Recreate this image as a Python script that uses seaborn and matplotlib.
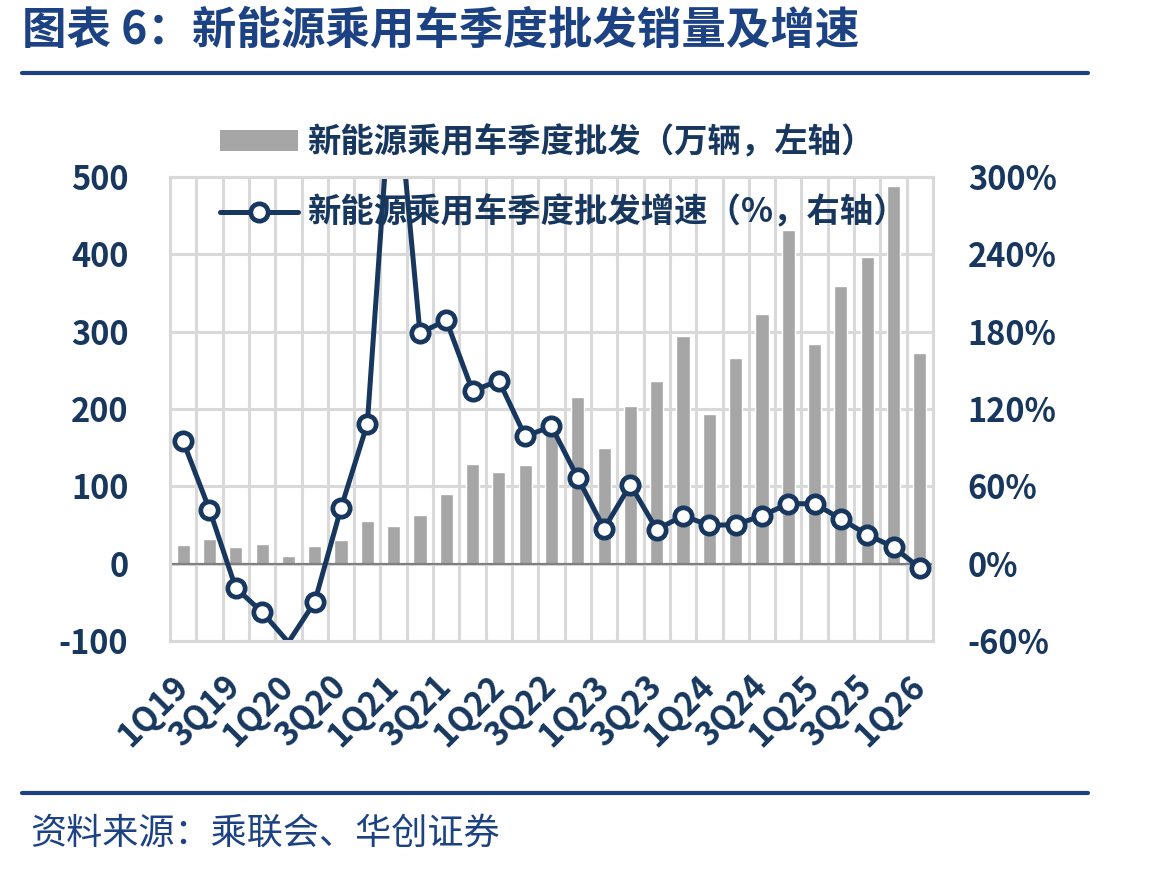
import numpy as np
import matplotlib
matplotlib.use("Agg")
import matplotlib.pyplot as plt
from matplotlib.patches import Patch
from matplotlib.lines import Line2D
from matplotlib.ticker import FuncFormatter
import seaborn as sns

# ---------------- data ----------------
quarters = ["1Q19", "2Q19", "3Q19", "4Q19",
            "1Q20", "2Q20", "3Q20", "4Q20",
            "1Q21", "2Q21", "3Q21", "4Q21",
            "1Q22", "2Q22", "3Q22", "4Q22",
            "1Q23", "2Q23", "3Q23", "4Q23",
            "1Q24", "2Q24", "3Q24", "4Q24",
            "1Q25", "2Q25", "3Q25", "4Q25",
            "1Q26"]
# 新能源乘用车季度批发（万辆）
wholesale = [24.6, 32.3, 21.6, 25.9,
             9.5, 22.4, 31.0, 55.6,
             49.0, 63.4, 90.0, 129.0,
             118.0, 127.0, 182.0, 215.6,
             149.6, 203.4, 236.6, 294.8,
             194.0, 265.5, 323.0, 432.0,
             284.5, 358.6, 396.6, 488.8,
             273.0]
# 新能源乘用车季度批发增速（%）
growth = [94.9, 41.9, -18.9, -37.5,
          -61.0, -29.7, 43.2, 108.6,
          400.0, 179.0, 188.8, 134.0,
          142.0, 98.8, 106.5, 66.5,
          27.2, 61.3, 26.4, 37.2,
          29.7, 30.3, 37.2, 46.5,
          46.5, 34.7, 22.5, 12.9,
          -3.4]
left_ticks = [-100, 0, 100, 200, 300, 400, 500]
right_ticks = [-60, 0, 60, 120, 180, 240, 300]

title = "图表 6：新能源乘用车季度批发销量及增速"
bar_label = "新能源乘用车季度批发（万辆，左轴）"
line_label = "新能源乘用车季度批发增速（%，右轴）"
source = "资料来源：乘联会、华创证券"

# ---------------- style ----------------
sns.set_style("white")
plt.rcParams["font.family"] = ["Noto Sans CJK SC", "DejaVu Sans"]
plt.rcParams["axes.unicode_minus"] = False

NAVY = "#17375E"
TITLE_BLUE = "#1C4283"
BAR_GRAY = "#A6A6A6"
GRID = "#D9D9D9"

W, H = 1149, 869
fig = plt.figure(figsize=(W / 100, H / 100), dpi=100)
fig.patch.set_facecolor("white")

L, R, T, B = 170, 933, 177, 641
ax = fig.add_axes([L / W, 1 - B / H, (R - L) / W, (B - T) / H])

n = len(quarters)

sns.barplot(x=quarters, y=wholesale, color=BAR_GRAY, saturation=1,
            width=0.5, ax=ax, zorder=2)

ax2 = ax.twinx()
sns.pointplot(x=quarters, y=growth, ax=ax2, color=NAVY, errorbar=None,
              markers="o", linestyles="-", linewidth=3.6,
              markersize=12.5, markeredgewidth=3.4,
              markerfacecolor="white", markeredgecolor=NAVY,
              markevery=[i for i in range(n) if i not in (4, 8)])

# limits
ax.set_ylim(left_ticks[0], left_ticks[-1])
ax2.set_ylim(right_ticks[0], right_ticks[-1])
ax.set_xlim(-0.5, n - 0.5)

# ticks
ax.set_yticks(left_ticks)
ax2.set_yticks(right_ticks)
ax2.yaxis.set_major_formatter(FuncFormatter(lambda v, p: f"{v:.0f}%"))
ax.set_xticks(range(0, n, 2))
ax.set_xticklabels([quarters[i] for i in range(0, n, 2)])
ax.set_xticks(np.arange(-0.5, n, 1), minor=True)

ax.set_xlabel("")
ax.set_ylabel("")
ax2.set_xlabel("")
ax2.set_ylabel("")

for lab in ax.get_yticklabels():
    lab.set_fontsize(23.5)
    lab.set_fontweight("bold")
    lab.set_color(NAVY)
for lab in ax2.get_yticklabels():
    lab.set_fontsize(23.5)
    lab.set_fontweight("bold")
    lab.set_color(NAVY)
for lab in ax.get_xticklabels():
    lab.set_fontsize(24)
    lab.set_fontweight("bold")
    lab.set_color(NAVY)
    lab.set_rotation(45)
    lab.set_rotation_mode("anchor")
    lab.set_ha("right")
    lab.set_va("center")

ax.tick_params(axis="y", length=0, pad=30)
ax2.tick_params(axis="y", length=0, pad=25)
ax.tick_params(axis="x", which="both", length=0, pad=29)

# grid
ax.set_axisbelow(True)
ax.grid(False)
ax.grid(True, axis="y", which="major", color=GRID, linewidth=2.2)
ax.grid(True, axis="x", which="minor", color=GRID, linewidth=2.2)
ax2.grid(False)
ax.axhline(0, color="#7F7F7F", linewidth=1.6, zorder=2.5)

for a in (ax, ax2):
    for s in a.spines.values():
        s.set_color(GRID)
        s.set_linewidth(2.2)

# legend (on the lower axes so the line draws over it)
handles = [
    Patch(facecolor=BAR_GRAY, edgecolor="none"),
    Line2D([0], [0], color=NAVY, linewidth=3.6, marker="o",
           markersize=12.5, markeredgewidth=3.4,
           markerfacecolor="white", markeredgecolor=NAVY),
]
leg = ax.legend(handles, [bar_label, line_label],
                loc="upper left", bbox_to_anchor=(220 / W, 1 - 126 / H),
                bbox_transform=fig.transFigure, frameon=False,
                prop={"size": 24, "weight": "bold"}, labelcolor=NAVY,
                handlelength=2.35, handleheight=0.6, handletextpad=0.27,
                labelspacing=1.1, borderpad=0, borderaxespad=0)

# title, rules, source
fig.text(22 / W, 1 - 31 / H, title, fontsize=32, fontweight="bold",
         color=TITLE_BLUE, va="center", ha="left")
fig.add_artist(Line2D([22 / W, 1088 / W], [1 - 73 / H, 1 - 73 / H],
                      transform=fig.transFigure, color=TITLE_BLUE, linewidth=3))
fig.add_artist(Line2D([22 / W, 1088 / W], [1 - 793 / H, 1 - 793 / H],
                      transform=fig.transFigure, color=TITLE_BLUE, linewidth=3))
fig.text(30 / W, 1 - 834 / H, source, fontsize=26, style="italic",
         color=TITLE_BLUE, va="center", ha="left")

fig.savefig("out.png", dpi=100, facecolor="white")
